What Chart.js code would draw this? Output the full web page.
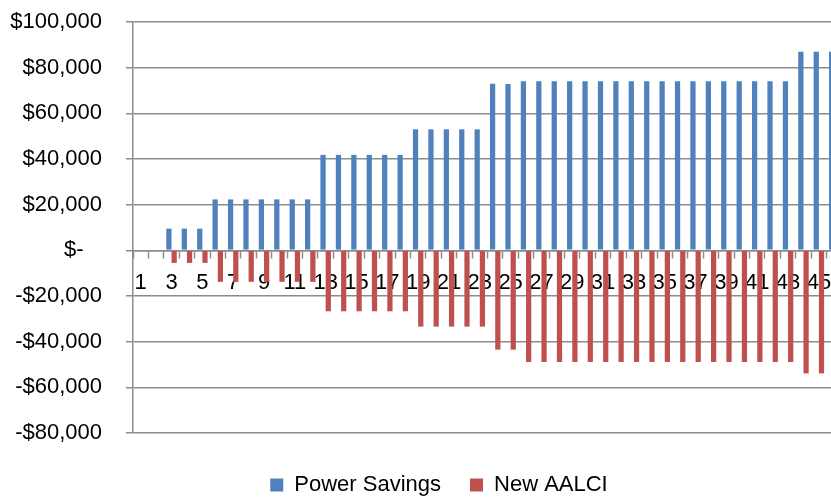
<!DOCTYPE html>
<html>
<head>
<meta charset="utf-8">
<script src="https://cdn.jsdelivr.net/npm/chart.js@4/dist/chart.umd.min.js"></script>
<style>
  html, body { margin: 0; padding: 0; background: #fff; overflow: hidden; }
  #wrap { width: 870px; height: 506px; }
</style>
</head>
<body>
<div id="wrap"><canvas id="grafico" width="870" height="506"></canvas></div>
<script>
  // 46 periods, the last one is cut off at the right edge in the original
  const periodos = [];
  for (let i = 1; i <= 46; i++) periodos.push(String(i));

  const powerSavings = [0, 0, 9500, 9500, 9500,
    22300, 22300, 22300, 22300, 22300, 22300, 22300,
    41800, 41800, 41800, 41800, 41800, 41800,
    53000, 53000, 53000, 53000, 53000,
    73000, 72800,
    74000, 74000, 74000, 74000, 74000, 74000, 74000, 74000, 74000,
    74000, 74000, 74000, 74000, 74000, 74000, 74000, 74000, 74000,
    87000, 87000, 87000];

  const newAALCI = [0, 0, -5500, -5500, -5500,
    -13800, -13800, -13800, -13800, -13800, -13800, -13800,
    -26700, -26700, -26700, -26700, -26700, -26700,
    -33400, -33400, -33400, -33400, -33400,
    -43500, -43500,
    -48900, -48900, -48900, -48900, -48900, -48900, -48900, -48900, -48900,
    -48900, -48900, -48900, -48900, -48900, -48900, -48900, -48900, -48900,
    -53900, -53900, -53900];

  const yMin = -80000, yMax = 100000, yStep = 20000;

  const fonte = { family: "'Liberation Sans', Arial, sans-serif", size: 22 };
  const cinza = '#8c8c8c';

  function dinheiro(v) {
    if (v === 0) return '$-   ';
    const s = '$' + Math.abs(v).toLocaleString('en-US');
    return v < 0 ? '-' + s : s;
  }

  // the legend in the original is centred a bit right of the plot
  const moveLegenda = {
    id: 'moveLegenda',
    afterLayout(chart) { chart.legend.left += 36; }
  };

  const ctx = document.getElementById('grafico').getContext('2d');

  const grafico = new Chart(ctx, {
    type: 'bar',
    data: {
      labels: periodos,
      datasets: [{
        label: 'Power Savings',
        data: powerSavings,
        backgroundColor: '#4f81bd',
        borderWidth: 0
      }, {
        label: 'New AALCI',
        data: newAALCI,
        backgroundColor: '#c0504d',
        borderWidth: 0
      }]
    },
    plugins: [moveLegenda],
    options: {
      responsive: false,
      animation: false,
      categoryPercentage: 0.68,
      barPercentage: 1,
      layout: { padding: { left: 0, right: 28, top: 22, bottom: 0 } },
      plugins: {
        tooltip: { enabled: false },
        legend: {
          position: 'bottom',
          labels: {
            font: fonte,
            color: '#000',
            boxWidth: 13,
            boxHeight: 13,
            padding: 29
          }
        }
      },
      scales: {
        x: {
          position: { y: 0 },
          grid: {
            display: true,
            drawOnChartArea: false,
            drawTicks: true,
            tickLength: 7,
            tickColor: cinza,
            tickWidth: 1.5
          },
          border: { color: cinza, width: 1.5 },
          ticks: {
            font: fonte,
            color: '#000',
            autoSkip: false,
            maxRotation: 0,
            padding: 12,
            callback: (v, i) => (i % 2 === 0 ? periodos[i] : '')
          }
        },
        xb: {
          type: 'category',
          position: 'bottom',
          grid: { display: false },
          border: { display: false },
          ticks: { display: false },
          afterFit: s => { s.height = 12; }
        },
        y: {
          min: yMin,
          max: yMax,
          grid: {
            color: cinza,
            lineWidth: 1.5,
            drawTicks: true,
            tickLength: 7,
            tickColor: cinza
          },
          border: { color: cinza, width: 1.5 },
          ticks: {
            stepSize: yStep,
            font: fonte,
            color: '#000',
            padding: 24,
            callback: v => dinheiro(v)
          },
          afterFit: s => {
            s.width = 133;
            s.paddingTop = 0;
            s.paddingBottom = 0;
          }
        }
      }
    }
  });
</script>
</body>
</html>
